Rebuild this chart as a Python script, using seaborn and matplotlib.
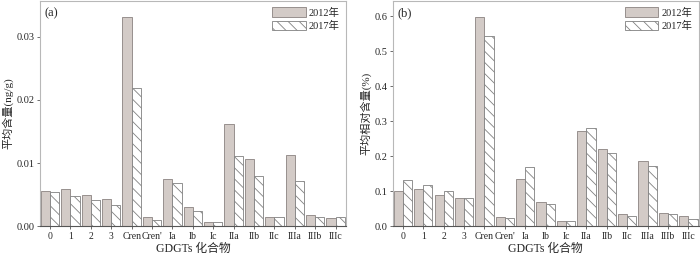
import pandas as pd
import matplotlib
matplotlib.use("Agg")
import matplotlib.pyplot as plt
import seaborn as sns
from matplotlib.patches import Patch

categories = ["0", "1", "2", "3", "Cren", "Cren'", "Ia", "Ib", "Ic",
              "IIa", "IIb", "IIc", "IIIa", "IIIb", "IIIc"]
years = ["2012年", "2017年"]

# (a) mean content, ng/g
abs_2012 = [0.0055, 0.0058, 0.0050, 0.0043, 0.0332, 0.0014, 0.0074, 0.0031, 0.0006,
            0.0162, 0.0107, 0.0014, 0.0113, 0.0018, 0.0012]
abs_2017 = [0.0054, 0.0047, 0.0041, 0.0033, 0.0219, 0.0009, 0.0069, 0.0024, 0.0007,
            0.0111, 0.0080, 0.0014, 0.0071, 0.0014, 0.0014]

# (b) mean relative content, %
rel_2012 = [0.101, 0.105, 0.090, 0.079, 0.597, 0.026, 0.135, 0.068, 0.013,
            0.271, 0.219, 0.033, 0.186, 0.036, 0.029]
rel_2017 = [0.133, 0.118, 0.099, 0.081, 0.542, 0.023, 0.170, 0.063, 0.013,
            0.279, 0.208, 0.030, 0.172, 0.034, 0.021]

sns.set_theme(style="white")
plt.rcParams["font.family"] = ["Liberation Serif", "Noto Sans CJK SC", "DejaVu Sans"]
plt.rcParams["hatch.color"] = "#808080"
plt.rcParams["hatch.linewidth"] = 0.6

FILL = "#d3cbc7"
EDGE = "#8a8280"
HATCH = "\\\\\\"


def long_df(v2012, v2017):
    return pd.DataFrame({
        "cat": categories * 2,
        "year": [years[0]] * len(categories) + [years[1]] * len(categories),
        "value": v2012 + v2017,
    })


def draw(ax, df, ylim, yticks, ylabel, tag):
    sns.barplot(df, x="cat", y="value", hue="year", order=categories,
                hue_order=years, width=0.9, ax=ax, legend=False,
                palette=[FILL, "white"], saturation=1, edgecolor=EDGE, linewidth=0.6)
    n = len(categories)
    for i, bar in enumerate(ax.patches[:2 * n]):
        if i >= n:
            bar.set_facecolor("white")
            bar.set_hatch(HATCH)
            bar.set_edgecolor("#808080")
    ax.set_xlim(-0.5, n - 0.5)
    ax.set_ylim(*ylim)
    ax.set_yticks(yticks)
    ax.set_xlabel("GDGTs 化合物", fontsize=8.5, labelpad=2)
    ax.set_ylabel(ylabel, fontsize=8, labelpad=2)
    ax.tick_params(axis="both", labelsize=7.5, length=2, width=0.6, pad=2,
                   bottom=True, left=True, color="#555555")
    ax.tick_params(axis="x", labelsize=7)
    for s in ["top", "right", "left"]:
        ax.spines[s].set_color("#b8b8b8")
        ax.spines[s].set_linewidth(0.8)
    ax.spines["bottom"].set_color("#555555")
    ax.spines["bottom"].set_linewidth(0.8)
    ax.text(0.015, 0.97, tag, transform=ax.transAxes, fontsize=9, va="top", ha="left")
    handles = [Patch(facecolor=FILL, edgecolor=EDGE, linewidth=0.6),
               Patch(facecolor="white", edgecolor="#808080", hatch=HATCH, linewidth=0.6)]
    ax.legend(handles, years, loc="upper right", frameon=False, fontsize=7.5,
              handlelength=3.2, handleheight=1.0, handletextpad=0.3,
              labelspacing=0.3, borderaxespad=0.2)


fig = plt.figure(figsize=(7, 2.56), dpi=100)
ax1 = fig.add_axes([0.057, 0.117, 0.437, 0.879])
ax2 = fig.add_axes([0.561, 0.117, 0.437, 0.879])

draw(ax1, long_df(abs_2012, abs_2017), (0, 0.0357), [0.0, 0.01, 0.02, 0.03],
     "平均含量(ng/g)", "(a)")
ax1.set_yticklabels(["0.00", "0.01", "0.02", "0.03"])
draw(ax2, long_df(rel_2012, rel_2017), (0, 0.643), [0.0, 0.1, 0.2, 0.3, 0.4, 0.5, 0.6],
     "平均相对含量(%)", "(b)")

fig.savefig("out.png", dpi=100)
